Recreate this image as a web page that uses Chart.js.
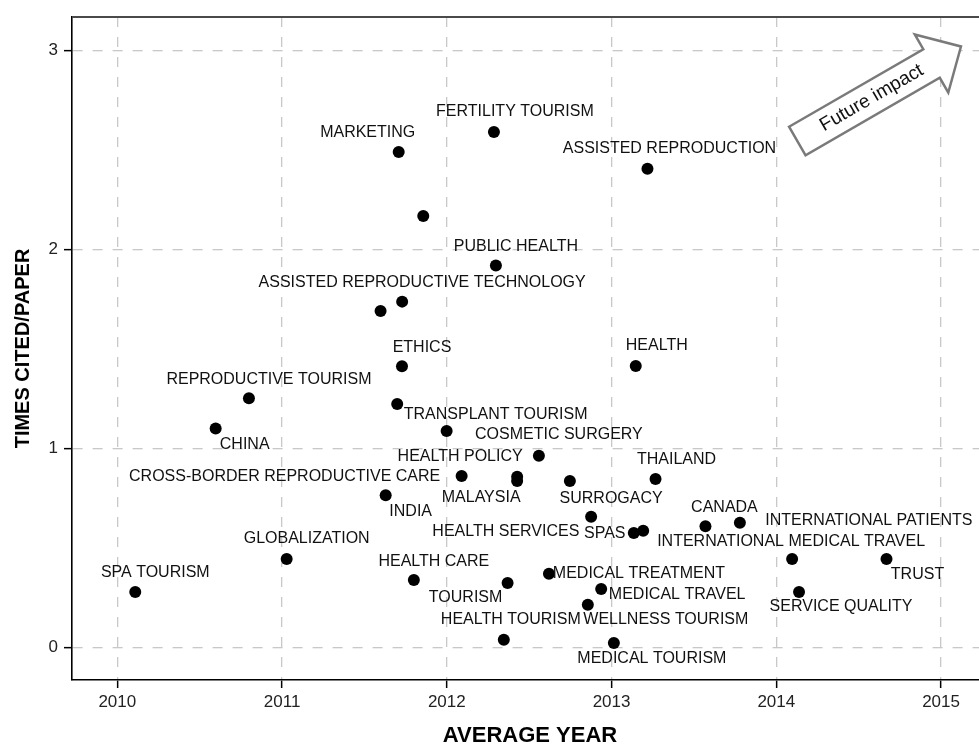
<!DOCTYPE html>
<html><head><meta charset="utf-8">
<script src="https://cdn.jsdelivr.net/npm/chart.js@4/dist/chart.umd.min.js"></script>
<style>
html,body{margin:0;padding:0;background:#fff;overflow:hidden}
#wrap{width:979px;height:744px;overflow:hidden;position:relative;background:#fff}
#inner{width:988px;height:744px;position:absolute;left:0;top:0}
canvas{display:block}
</style></head><body>
<div id="wrap"><div id="inner"><canvas id="c" width="988" height="744" style="width:988px;height:744px"></canvas></div></div>
<script>
// ---- data ----
const keywords = [
  'SPA TOURISM','GLOBALIZATION','CHINA','REPRODUCTIVE TOURISM','MARKETING','',
  'FERTILITY TOURISM','ASSISTED REPRODUCTION','PUBLIC HEALTH','ASSISTED REPRODUCTIVE TECHNOLOGY','',
  'ETHICS','HEALTH','','TRANSPLANT TOURISM','COSMETIC SURGERY','CROSS-BORDER REPRODUCTIVE CARE',
  'HEALTH POLICY','MALAYSIA','HEALTH SERVICES','THAILAND','INDIA','SURROGACY','SPAS','',
  'CANADA','INTERNATIONAL PATIENTS','INTERNATIONAL MEDICAL TRAVEL','TRUST','SERVICE QUALITY',
  'HEALTH CARE','TOURISM','MEDICAL TREATMENT','MEDICAL TRAVEL','WELLNESS TOURISM',
  'HEALTH TOURISM','MEDICAL TOURISM'
];
const averageYear = [
  2010.109,2011.028,2010.597,2010.799,2011.708,2011.857,
  2012.286,2013.218,2012.298,2011.729,2011.598,
  2011.728,2013.147,2011.699,2011.999,2012.559,2012.090,
  2012.427,2012.427,2012.747,2013.267,2011.629,2012.876,2013.135,2013.192,
  2013.570,2013.779,2014.096,2014.669,2014.138,
  2011.800,2012.369,2012.620,2012.937,2012.856,
  2012.346,2013.014
];
const timesCitedPerPaper = [
  0.278,0.444,1.100,1.251,2.489,2.167,
  2.589,2.405,1.918,1.737,1.690,
  1.412,1.414,1.223,1.087,0.963,0.861,
  0.857,0.836,0.836,0.846,0.764,0.656,0.574,0.586,
  0.608,0.626,0.444,0.444,0.278,
  0.338,0.323,0.370,0.293,0.214,
  0.038,0.022
];
const xTickValues = [2010, 2011, 2012, 2013, 2014, 2015];
const yTickValues = [0, 1, 2, 3];

// ---- label placement (pixel offsets of label centre from its point) ----
const labelDx = [20,20,29,20,-31,0, 21,22,20,20,0, 20,21,0,49,20,-177, -57,-36,-64,21,25,20,-29,0, 19,129,-1,31,42, 20,-42,90,76,78, 7,38];
const labelDy = [-19,-20,16,-19,-19,0, -20,-20,-19,-19,0, -19,-20,0,-16,-21,1, -20,17,51,-19,16,-18,0,0, -19,-2,-17,16,15, -18,15,0,6,15, -20,16];

const FONT = '"Liberation Sans", Arial, Helvetica, sans-serif';

const pointLabels = {
  id: 'pointLabels',
  afterDatasetsDraw(chart) {
    const ctx = chart.ctx;
    const meta = chart.getDatasetMeta(0);
    ctx.save();
    ctx.font = '16px ' + FONT;
    ctx.fillStyle = '#111';
    ctx.textAlign = 'center';
    ctx.textBaseline = 'middle';
    meta.data.forEach((el, i) => {
      if (!keywords[i]) return;
      ctx.fillText(keywords[i], el.x + labelDx[i], el.y + labelDy[i]);
    });
    ctx.restore();
  }
};

const frameTop = {
  id: 'frameTop',
  afterDraw(chart) {
    const {ctx, chartArea} = chart;
    ctx.save();
    ctx.strokeStyle = '#4a4a4a';
    ctx.lineWidth = 2;
    ctx.beginPath();
    ctx.moveTo(chartArea.left, chartArea.top);
    ctx.lineTo(chartArea.right, chartArea.top);
    ctx.stroke();
    ctx.restore();
  }
};

const futureArrow = {
  id: 'futureArrow',
  afterDraw(chart) {
    const ctx = chart.ctx;
    ctx.save();
    ctx.translate(797.3, 141);
    ctx.rotate(-Math.PI / 6);
    ctx.beginPath();
    ctx.moveTo(0, -16.5);
    ctx.lineTo(155, -16.5);
    ctx.lineTo(155, -33.5);
    ctx.lineTo(189, 0);
    ctx.lineTo(155, 33.5);
    ctx.lineTo(155, 16.5);
    ctx.lineTo(0, 16.5);
    ctx.closePath();
    ctx.fillStyle = '#fff';
    ctx.fill();
    ctx.strokeStyle = '#7a7a7a';
    ctx.lineWidth = 2.5;
    ctx.lineJoin = 'miter';
    ctx.stroke();
    ctx.font = '19px ' + FONT;
    ctx.fillStyle = '#111';
    ctx.textAlign = 'center';
    ctx.textBaseline = 'middle';
    ctx.fillText('Future impact', 86, 0);
    ctx.restore();
  }
};

const gridStyle = {
  color: '#c8c8c8',
  lineWidth: 1.3,
  drawTicks: true,
  tickLength: 8,
  tickColor: '#000',
  tickWidth: 1.5,
  tickBorderDash: []
};
const borderStyle = {display: true, color: '#000', width: 1.6, dash: [10, 10]};

new Chart(document.getElementById('c'), {
  type: 'scatter',
  data: {
    datasets: [{
      data: averageYear.map((x, i) => ({x, y: timesCitedPerPaper[i]})),
      pointRadius: 6,
      pointHoverRadius: 6,
      pointBackgroundColor: '#000',
      pointBorderWidth: 0,
      borderWidth: 0
    }]
  },
  options: {
    responsive: false,
    animation: false,
    devicePixelRatio: 1,
    layout: {autoPadding: false, padding: {top: 17, left: 0, right: 0, bottom: 0}},
    plugins: {legend: {display: false}, tooltip: {enabled: false}},
    scales: {
      x: {
        type: 'linear',
        min: 2009.725,
        max: 2015.285,
        afterBuildTicks: s => { s.ticks = xTickValues.map(v => ({value: v})); },
        afterFit: s => { s.height = 64; s.paddingLeft = 0; s.paddingRight = 0; },
        ticks: {
          callback: v => String(v),
          font: {family: FONT, size: 17},
          color: '#222',
          padding: 4,
          maxRotation: 0
        },
        grid: gridStyle,
        border: borderStyle,
        title: {
          display: true,
          text: 'AVERAGE YEAR',
          font: {family: FONT, size: 22, weight: 'bold'},
          color: '#000',
          padding: {top: 0, bottom: -5}
        }
      },
      y: {
        type: 'linear',
        min: -0.164,
        max: 3.167,
        afterBuildTicks: s => { s.ticks = yTickValues.map(v => ({value: v})); },
        afterFit: s => { s.width = 72; s.paddingTop = 0; s.paddingBottom = 0; },
        ticks: {
          callback: v => String(v),
          font: {family: FONT, size: 17},
          color: '#222',
          padding: 6
        },
        grid: gridStyle,
        border: borderStyle,
        title: {
          display: true,
          text: 'TIMES CITED/PAPER',
          font: {family: FONT, size: 20, weight: 'bold'},
          color: '#000',
          padding: {top: 11, bottom: 0}
        }
      }
    }
  },
  plugins: [pointLabels, frameTop, futureArrow]
});
</script>
</body></html>
